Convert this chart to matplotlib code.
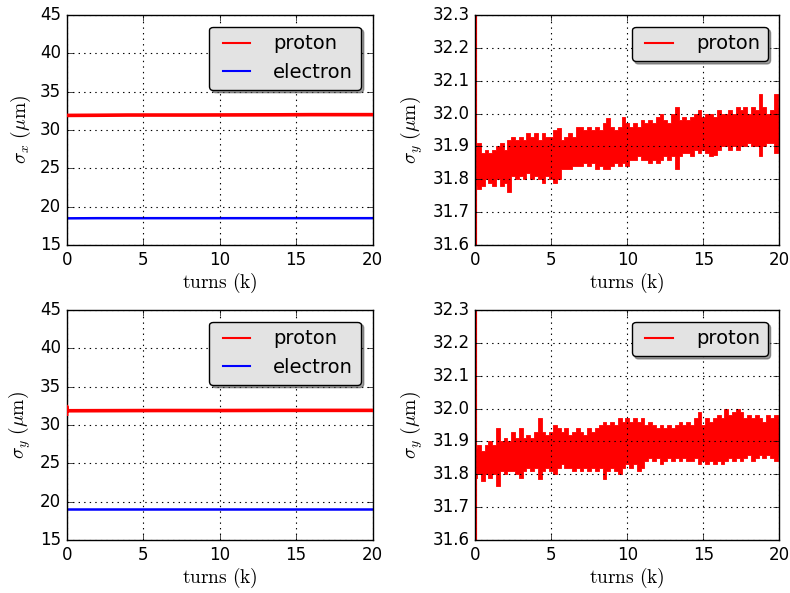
import numpy as np
import matplotlib
matplotlib.use('Agg')
import matplotlib.pyplot as plt

# turns in units of k, sampled every 0.25k for the noisy panels
turns = np.arange(0, 20.01, 0.25)

# left panels: beam sizes (um), sampled every 2k turns
turns_coarse = np.arange(0, 20.01, 2)
proton_sx = [31.9, 31.92, 31.95, 31.95, 31.95, 31.96, 31.97, 31.98, 32.0, 32.0, 32.0]
electron_sx = [18.48, 18.5, 18.5, 18.5, 18.5, 18.5, 18.5, 18.5, 18.5, 18.5, 18.5]
proton_sy = [31.85, 31.86, 31.87, 31.88, 31.88, 31.88, 31.89, 31.9, 31.9, 31.9, 31.9]
electron_sy = [19.0, 19.0, 19.0, 19.0, 19.0, 19.0, 19.0, 19.0, 19.0, 19.0, 19.0]
proton_sy_start = [31.4, 32.4]

# right panels: upper / lower envelope of the proton sigma_y trace (um)
top_upper = [31.90, 31.91, 31.88, 31.89, 31.88, 31.89, 31.90, 31.91, 31.89, 31.92,
             31.93, 31.92, 31.93, 31.92, 31.94, 31.93, 31.94, 31.92, 31.94, 31.93,
             31.93, 31.95, 31.955, 31.92, 31.93, 31.94, 31.93, 31.96, 31.96, 31.95,
             31.96, 31.95, 31.96, 31.95, 31.97, 31.985, 31.96, 31.95, 31.96, 31.99,
             31.97, 31.96, 31.97, 31.96, 31.98, 31.97, 31.98, 31.97, 31.99, 32.00,
             31.98, 31.97, 32.00, 32.02, 31.98, 31.99, 31.98, 31.99, 32.00, 32.01,
             31.99, 32.00, 32.00, 31.99, 32.01, 32.00, 32.00, 32.01, 32.00, 32.02,
             32.01, 32.02, 32.00, 32.02, 32.01, 32.06, 32.02, 32.00, 32.01, 32.06,
             32.02]
top_lower = [31.78, 31.77, 31.78, 31.80, 31.79, 31.78, 31.80, 31.78, 31.79, 31.76,
             31.81, 31.80, 31.81, 31.80, 31.82, 31.80, 31.81, 31.80, 31.79, 31.81,
             31.80, 31.79, 31.80, 31.83, 31.83, 31.83, 31.84, 31.84, 31.84, 31.85,
             31.84, 31.85, 31.83, 31.84, 31.83, 31.83, 31.84, 31.85, 31.84, 31.85,
             31.84, 31.86, 31.86, 31.87, 31.86, 31.86, 31.85, 31.86, 31.85, 31.86,
             31.87, 31.86, 31.87, 31.83, 31.87, 31.88, 31.88, 31.87, 31.89, 31.88,
             31.89, 31.88, 31.87, 31.875, 31.89, 31.90, 31.90, 31.89, 31.90, 31.89,
             31.90, 31.90, 31.91, 31.90, 31.90, 31.87, 31.90, 31.91, 31.91, 31.88,
             31.90]
bot_upper = [31.88, 31.89, 31.87, 31.89, 31.90, 31.89, 31.94, 31.90, 31.91, 31.90,
             31.93, 31.91, 31.94, 31.91, 31.92, 31.91, 31.93, 31.97, 31.93, 31.92,
             31.93, 31.95, 31.94, 31.93, 31.94, 31.92, 31.93, 31.94, 31.93, 31.92,
             31.94, 31.93, 31.94, 31.95, 31.96, 31.95, 31.96, 31.95, 31.97, 31.96,
             31.97, 31.96, 31.97, 31.96, 31.97, 31.95, 31.96, 31.95, 31.94, 31.95,
             31.94, 31.95, 31.94, 31.95, 31.96, 31.95, 31.96, 31.95, 31.97, 31.99,
             31.95, 31.97, 31.96, 31.97, 31.98, 31.97, 32.00, 31.98, 31.99, 32.00,
             31.99, 31.97, 31.98, 31.97, 31.98, 31.97, 31.96, 31.98, 31.97, 31.98,
             31.97]
bot_lower = [31.79, 31.80, 31.78, 31.80, 31.79, 31.80, 31.765, 31.81, 31.80, 31.81,
             31.81, 31.80, 31.79, 31.81, 31.82, 31.81, 31.82, 31.785, 31.81, 31.82,
             31.81, 31.80, 31.82, 31.83, 31.82, 31.82, 31.81, 31.82, 31.81, 31.82,
             31.81, 31.82, 31.81, 31.82, 31.785, 31.81, 31.82, 31.81, 31.80, 31.82,
             31.83, 31.82, 31.83, 31.81, 31.82, 31.84, 31.85, 31.84, 31.85, 31.83,
             31.84, 31.85, 31.84, 31.85, 31.84, 31.85, 31.84, 31.84, 31.85, 31.83,
             31.84, 31.83, 31.84, 31.83, 31.84, 31.83, 31.84, 31.85, 31.84, 31.85,
             31.84, 31.85, 31.86, 31.84, 31.85, 31.86, 31.85, 31.86, 31.85, 31.84,
             31.86]
# first turns jump far outside the zoomed range
right_start = [32.5, 31.5]

plt.style.use('classic')
plt.rcParams['mathtext.fontset'] = 'cm'
plt.rcParams['font.size'] = 12

fig = plt.figure(figsize=(7.9, 5.93), dpi=100, facecolor='white')
ax_tl = fig.add_axes([0.0844, 0.5868, 0.3873, 0.388])
ax_tr = fig.add_axes([0.6013, 0.5868, 0.3854, 0.388])
ax_bl = fig.add_axes([0.0844, 0.0894, 0.3873, 0.388])
ax_br = fig.add_axes([0.6013, 0.0894, 0.3854, 0.388])


def style_axes(ax, ylabel):
    ax.set_xlim(0, 20)
    ax.set_xticks([0, 5, 10, 15, 20])
    ax.set_xlabel(r'$\mathrm{turns\ (k)}$', fontsize=14, labelpad=2)
    ax.set_ylabel(ylabel, fontsize=14)
    ax.grid(True, color='black', linestyle=':', linewidth=0.8)
    leg = ax.legend(loc='upper right', fontsize=14, fancybox=True, shadow=True,
                    handletextpad=0.9, borderaxespad=0.6)
    leg.get_frame().set_facecolor('#e3e3e3')
    for line in leg.get_lines():
        line.set_linewidth(1.5)


def left_panel(ax, proton, electron, ylabel, start=None):
    x = list(turns_coarse)
    y = list(proton)
    if start is not None:
        x = [0] * len(start) + x
        y = list(start) + y
    ax.plot(x, y, color='r', linewidth=2.6, label='proton', zorder=3)
    ax.plot(turns_coarse, electron, color='b', linewidth=1.8, label='electron')
    ax.set_ylim(15, 45)
    style_axes(ax, ylabel)


def right_panel(ax, upper, lower, ylabel):
    ax.fill_between(turns, lower, upper, color='r', linewidth=0.6, edgecolor='r', step='mid')
    # starting jump at turn 0, visible just inside the left spine
    ax.plot([0] * len(right_start), right_start, color='r', linewidth=3,
            label='proton', zorder=2)
    ax.set_ylim(31.6, 32.3)
    ax.set_yticks(np.arange(31.6, 32.31, 0.1))
    ax.set_yticklabels(['%.1f' % v for v in np.arange(31.6, 32.31, 0.1)])
    style_axes(ax, ylabel)


left_panel(ax_tl, proton_sx, electron_sx, r'$\sigma_x\ (\mu\mathrm{m})$')
right_panel(ax_tr, top_upper, top_lower, r'$\sigma_y\ (\mu\mathrm{m})$')
left_panel(ax_bl, proton_sy, electron_sy, r'$\sigma_y\ (\mu\mathrm{m})$', start=proton_sy_start)
right_panel(ax_br, bot_upper, bot_lower, r'$\sigma_y\ (\mu\mathrm{m})$')

plt.savefig('out.png', dpi=100, facecolor='white')
plt.close()
